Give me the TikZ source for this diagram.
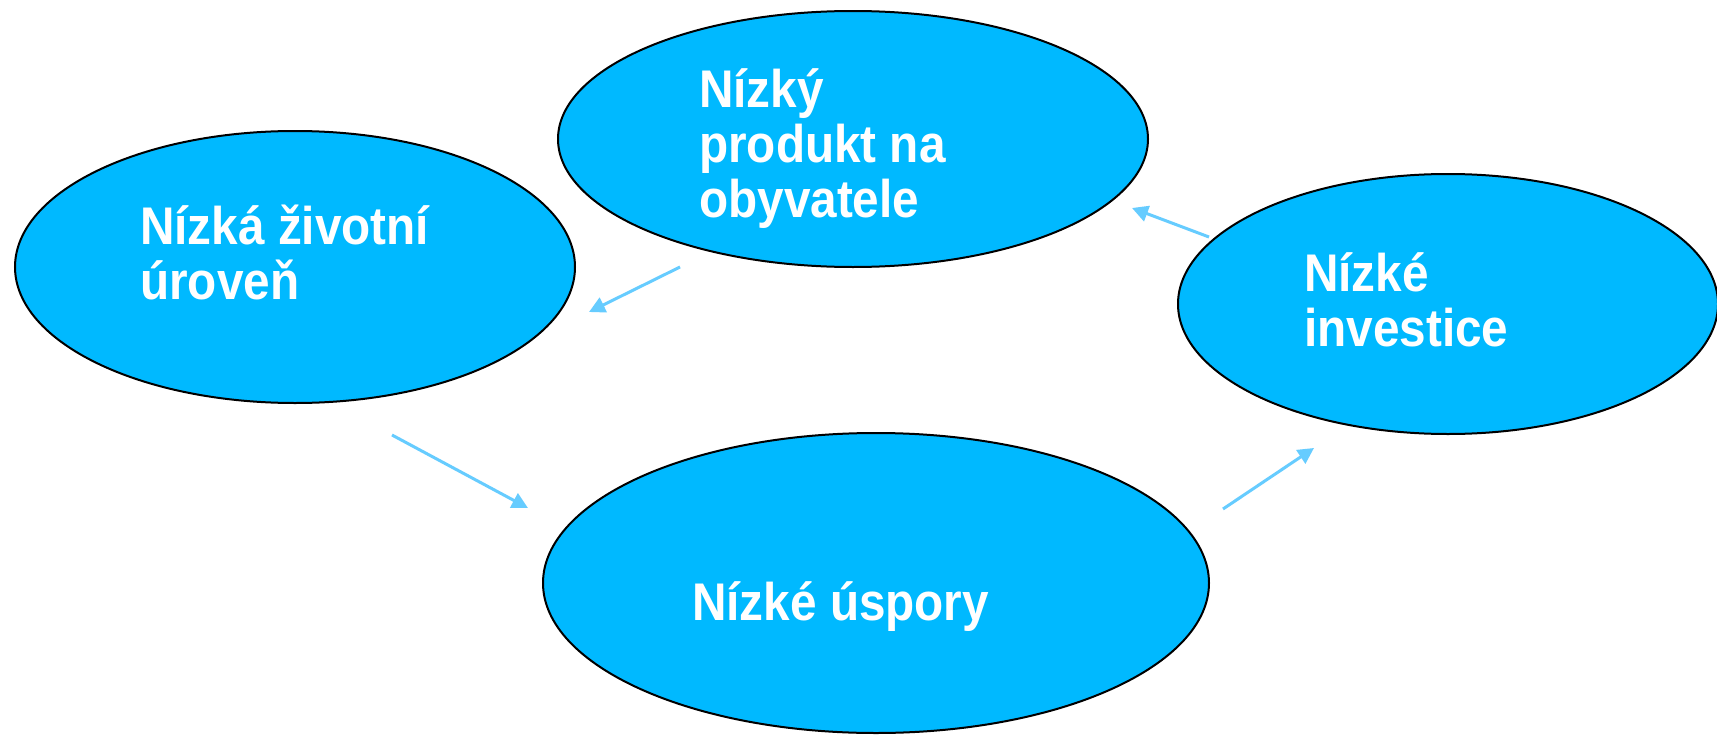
\documentclass[tikz,border=0pt]{standalone}
\usepackage{fontspec}
\setmainfont{Liberation Sans}[FakeStretch=0.9]
\usetikzlibrary{shapes.geometric,arrows.meta}
\definecolor{ellfill}{RGB}{0,185,255}
\definecolor{arrcol}{RGB}{102,204,255}
\tikzset{
  ell/.style={ellipse, draw=black, line width=2pt, fill=ellfill, inner sep=0pt},
  lbl/.style={anchor=base west, inner sep=0pt, align=left, text=white, font=\fontsize{53}{55}\selectfont\bfseries},
  arr/.style={draw=arrcol, line width=3pt, -{Triangle[length=16pt,width=16pt]}}
}
\begin{document}
\begin{tikzpicture}[x=1pt,y=-1pt]
\useasboundingbox (0,0) rectangle (1717,736);
\fill[white] (0,0) rectangle (1717,736);
\node[ell, minimum width=560pt, minimum height=272pt] (left) at (295,267) {};
\node[ell, minimum width=590pt, minimum height=256pt] (top) at (853,139) {};
\node[ell, minimum width=540pt, minimum height=260pt] (right) at (1448,304) {};
\node[ell, minimum width=666pt, minimum height=300pt] (bottom) at (876,583) {};
\node[lbl] (tleft) at (140,299) {Nízká životní\\úroveň};
\node[lbl] (ttop) at (699,217) {Nízký\\produkt na\\obyvatele};
\node[lbl] (tright) at (1304,346) {Nízké\\investice};
\node[lbl] (tbottom) at (692,620) {Nízké úspory};
\coordinate (a1s) at (680,267); \coordinate (a1e) at (589,312);
\coordinate (a2s) at (392,435); \coordinate (a2e) at (528,508);
\coordinate (a3s) at (1223,509); \coordinate (a3e) at (1314,448);
\coordinate (a4s) at (1209,237); \coordinate (a4e) at (1132,208);
\draw[arr] (a1s) -- (a1e);
\draw[arr] (a2s) -- (a2e);
\draw[arr] (a3s) -- (a3e);
\draw[arr] (a4s) -- (a4e);
\end{tikzpicture}
\end{document}
